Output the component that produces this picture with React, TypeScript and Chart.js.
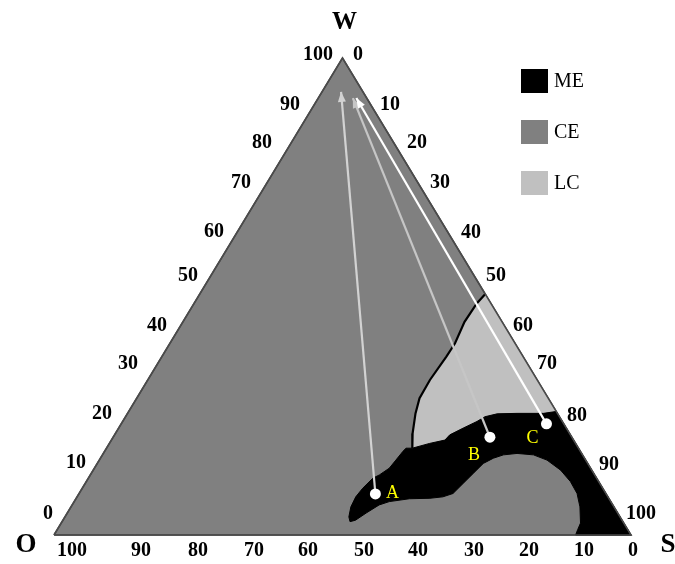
import React, { useEffect, useRef } from 'react';
import { Chart, registerables } from 'chart.js';

Chart.register(...registerables);

// Ternary compositions are stored as [S, W] pairs (O = 100 - S - W)
const TRIANGLE: number[][] = [[0, 0], [100, 0], [0, 100], [0, 0]];

const LC_LEFT_BOUNDARY: number[][] = [
  [49.5, 50.5], [49.0, 48.6], [48.8, 44.7], [49.4, 40.2], [49.3, 37.4], [48.9, 32.5],
  [49.0, 28.7], [49.9, 25.5], [51.5, 21.3], [53.0, 18.2],
];

const ME_TOP: number[][] = [
  [74.1, 25.9], [72.1, 25.5], [67.5, 25.5], [64.1, 25.4], [62.3, 24.8], [61.4, 23.8],
  [59.7, 22.4], [58.1, 21.0], [57.8, 19.9], [55.5, 19.2], [53.0, 18.2], [51.9, 18.2],
];

const ME_LEFT: number[][] = [
  [51.7, 17.5], [51.4, 15.7], [51.1, 14.0], [50.1, 12.6], [49.3, 11.9], [48.6, 9.8],
  [48.3, 8.0], [48.5, 5.9], [49.2, 3.8], [49.9, 2.8],
];

const ME_BOTTOM: number[][] = [
  [50.7, 3.1], [51.8, 4.6], [53.2, 6.3], [54.6, 7.0], [57.8, 7.6], [61.3, 7.7], [63.4, 8.0],
  [64.8, 8.7], [65.5, 10.8], [66.2, 12.9], [66.9, 15.0], [68.1, 16.1], [69.5, 16.8],
  [71.7, 17.1], [74.7, 16.8], [77.6, 15.7], [81.0, 13.6], [83.9, 11.2], [86.3, 8.7],
  [88.2, 5.9], [90.0, 2.5], [90.2, 1.1], [90.4, 0], [100, 0],
];

const SAMPLE_NAMES = ['A', 'B', 'C'];
const SAMPLE_S = [51.4, 65.3, 73.7];
const SAMPLE_W = [8.6, 20.5, 23.3];
const TARGET_S = [3.3, 6.0, 6.6];
const TARGET_W = [92.9, 91.6, 91.6];
const ARROW_COLORS = ['#d2d2d2', '#c6c6c6', '#ffffff'];

const TICKS = [0, 10, 20, 30, 40, 50, 60, 70, 80, 90, 100];
const AXIS_TITLES = ['W', 'O', 'S'];
const LEGEND_LABELS = ['ME', 'CE', 'LC'];
const LEGEND_COLORS = ['#000000', '#808080', '#c0c0c0'];

// Layout: tick label centres (px) for each of TICKS, as placed in the source figure
const LEFT_LABEL_POS = [
  [48, 514], [76, 463], [102, 414], [128, 364], [157, 326], [188, 276],
  [214, 232], [241, 183], [262, 143], [290, 105], [318, 55],
];
const RIGHT_LABEL_POS = [
  [358, 55], [390, 105], [417, 143], [440, 183], [471, 233], [496, 276],
  [523, 326], [547, 364], [577, 416], [609, 465], [641, 514],
];
const BOTTOM_LABEL_X = [633, 584, 529, 474, 418, 364, 308, 254, 198, 141, 72];
const BOTTOM_LABEL_Y = 551;

const toXY = (p: number[]) => ({ x: p[0] + p[1] / 2, y: p[1] });

const SERIF = '"Liberation Serif", "Times New Roman", serif';

const overlayPlugin = {
  id: 'ternaryOverlay',
  afterDatasetsDraw(chart: any) {
    const { ctx } = chart;
    const xs = chart.scales.x;
    const ys = chart.scales.y;
    const px = (s: number, w: number) => [xs.getPixelForValue(s + w / 2), ys.getPixelForValue(w)];

    // arrowheads
    for (let i = 0; i < SAMPLE_S.length; i++) {
      const [fx, fy] = px(SAMPLE_S[i], SAMPLE_W[i]);
      const [tx, ty] = px(TARGET_S[i], TARGET_W[i]);
      const a = Math.atan2(ty - fy, tx - fx);
      const L = 10;
      const H = 4;
      const bx = tx - L * Math.cos(a);
      const by = ty - L * Math.sin(a);
      ctx.save();
      ctx.fillStyle = ARROW_COLORS[i];
      ctx.beginPath();
      ctx.moveTo(tx, ty);
      ctx.lineTo(bx + H * Math.sin(a), by - H * Math.cos(a));
      ctx.lineTo(bx - H * Math.sin(a), by + H * Math.cos(a));
      ctx.closePath();
      ctx.fill();
      ctx.restore();
    }

    ctx.save();
    ctx.textAlign = 'center';
    ctx.textBaseline = 'middle';

    // sample labels
    ctx.fillStyle = '#ffff00';
    ctx.font = `18px ${SERIF}`;
    const labelOffsets = [[17, -1], [-16, 18], [-14, 14]];
    for (let i = 0; i < SAMPLE_NAMES.length; i++) {
      const [x, y] = px(SAMPLE_S[i], SAMPLE_W[i]);
      ctx.fillText(SAMPLE_NAMES[i], x + labelOffsets[i][0], y + labelOffsets[i][1]);
    }

    // tick labels
    ctx.fillStyle = '#000000';
    ctx.font = `bold 20px ${SERIF}`;
    TICKS.forEach((v, i) => {
      ctx.fillText(String(v), LEFT_LABEL_POS[i][0], LEFT_LABEL_POS[i][1]);
      ctx.fillText(String(v), RIGHT_LABEL_POS[i][0], RIGHT_LABEL_POS[i][1]);
      ctx.fillText(String(v), BOTTOM_LABEL_X[i], BOTTOM_LABEL_Y);
    });

    // axis titles
    const [wx, wy] = px(0, 100);
    ctx.font = `bold 25px ${SERIF}`;
    ctx.fillText(AXIS_TITLES[0], wx + 2, wy - 35);
    ctx.font = `bold 27px ${SERIF}`;
    const [ox, oy] = px(0, 0);
    ctx.fillText(AXIS_TITLES[1], ox - 28, oy + 10);
    const [sx, sy] = px(100, 0);
    ctx.fillText(AXIS_TITLES[2], sx + 37, sy + 10);

    // legend
    ctx.textAlign = 'left';
    ctx.font = `20px ${SERIF}`;
    const legendTops = [69, 120, 171];
    for (let i = 0; i < LEGEND_LABELS.length; i++) {
      ctx.fillStyle = LEGEND_COLORS[i];
      ctx.fillRect(521, legendTops[i], 27, 24);
      ctx.fillStyle = '#000000';
      ctx.fillText(LEGEND_LABELS[i], 554, legendTops[i] + 13);
    }
    ctx.restore();
  },
};

export default function App() {
  const ref = useRef<HTMLCanvasElement | null>(null);

  useEffect(() => {
    if (!ref.current) return;
    const polyBase = {
      pointRadius: 0,
      pointHoverRadius: 0,
      tension: 0,
      clip: false as any,
    };
    const meShape = [...ME_TOP, ...ME_LEFT, ...ME_BOTTOM, ME_TOP[0]];
    const lcShape = [...LC_LEFT_BOUNDARY, ...ME_TOP.slice(0, ME_TOP.length - 1).reverse(), LC_LEFT_BOUNDARY[0]];

    const datasets: any[] = [
      {
        label: 'CE',
        data: TRIANGLE.map(toXY),
        backgroundColor: '#808080',
        borderColor: '#4a4a4a',
        borderWidth: 1.5,
        fill: 'shape',
        order: 10,
        ...polyBase,
      },
      {
        label: 'LC',
        data: lcShape.map(toXY),
        backgroundColor: '#c0c0c0',
        borderColor: 'rgba(0,0,0,0)',
        borderWidth: 0,
        fill: 'shape',
        order: 9,
        ...polyBase,
      },
      {
        label: 'ME',
        data: meShape.map(toXY),
        backgroundColor: '#000000',
        borderColor: '#000000',
        borderWidth: 1,
        fill: 'shape',
        order: 8,
        ...polyBase,
      },
      {
        label: 'LC boundary',
        data: LC_LEFT_BOUNDARY.map(toXY),
        borderColor: '#000000',
        borderWidth: 2.2,
        fill: false,
        order: 7,
        ...polyBase,
      },
      {
        label: 'Triangle edge',
        data: TRIANGLE.map(toXY),
        borderColor: '#4a4a4a',
        borderWidth: 1.5,
        fill: false,
        order: 6,
        ...polyBase,
      },
    ];
    for (let i = 0; i < SAMPLE_S.length; i++) {
      datasets.push({
        label: `Arrow ${SAMPLE_NAMES[i]}`,
        data: [toXY([SAMPLE_S[i], SAMPLE_W[i]]), toXY([TARGET_S[i], TARGET_W[i]])],
        borderColor: ARROW_COLORS[i],
        borderWidth: 2.2,
        fill: false,
        order: 5 - i * 0.1,
        ...polyBase,
      });
    }
    datasets.push({
      label: 'Samples',
      data: SAMPLE_S.map((s, i) => toXY([s, SAMPLE_W[i]])),
      showLine: false,
      pointRadius: 5.5,
      pointBackgroundColor: '#ffffff',
      pointBorderColor: '#ffffff',
      pointBorderWidth: 0,
      order: 1,
      clip: false,
    });

    const chart = new Chart(ref.current, {
      type: 'line',
      data: { datasets },
      options: {
        animation: false,
        responsive: false,
        maintainAspectRatio: false,
        devicePixelRatio: 1,
        layout: { padding: { left: 54, right: 44, top: 58, bottom: 29 } },
        scales: {
          x: { type: 'linear', min: 0, max: 100, display: false },
          y: { type: 'linear', min: 0, max: 100, display: false },
        },
        plugins: {
          legend: { display: false },
          tooltip: { enabled: false },
          title: { display: false },
        },
        events: [],
      },
      plugins: [overlayPlugin],
    });
    return () => chart.destroy();
  }, []);

  return (
    <div style={{ position: 'absolute', left: 0, top: 0, width: 675, height: 564, background: '#ffffff' }}>
      <canvas ref={ref} width={675} height={564} style={{ width: 675, height: 564, display: 'block' }} />
    </div>
  );
}
